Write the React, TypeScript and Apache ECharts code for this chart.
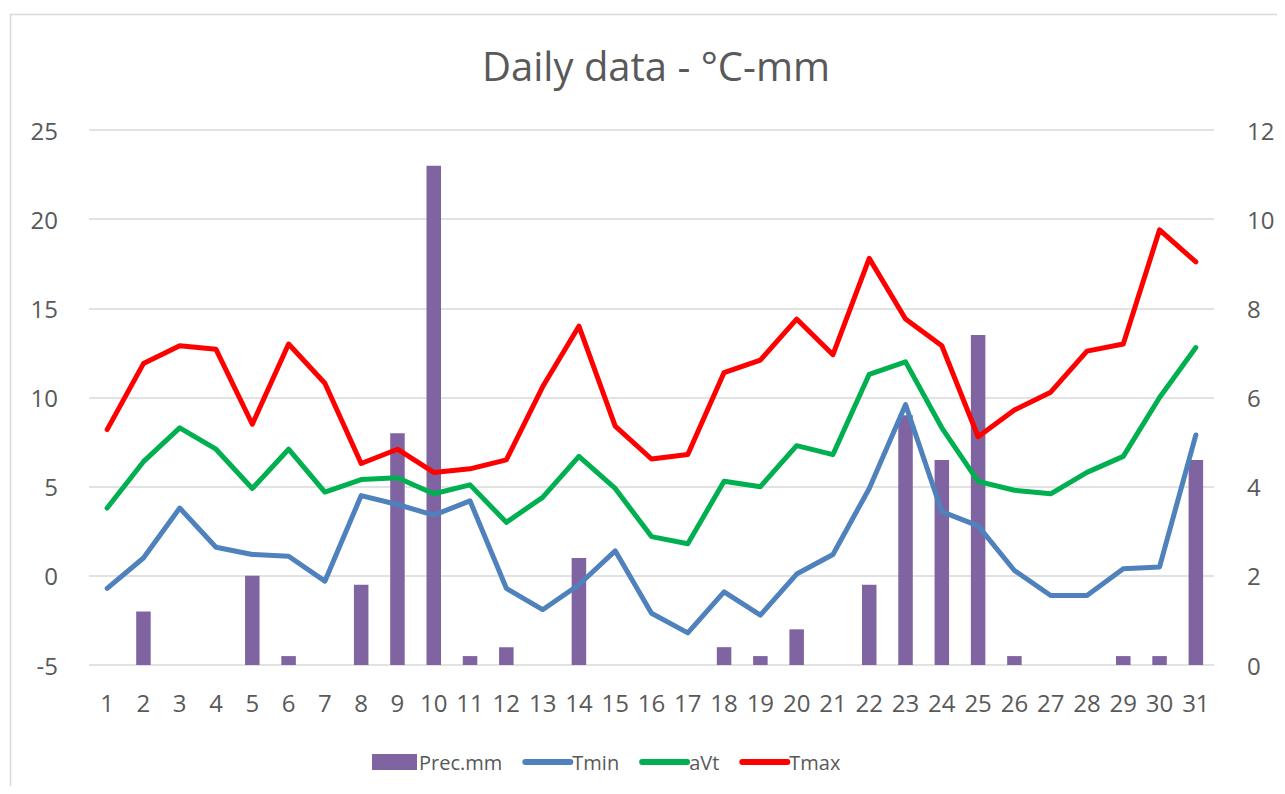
import React, { useEffect, useRef } from "react";
import * as echarts from "echarts";

const days = Array.from({ length: 31 }, (_, i) => String(i + 1));
const precMm = [0, 1.2, 0, 0, 2.0, 0.2, 0, 1.8, 5.2, 11.2, 0.2, 0.4, 0, 2.4, 0, 0, 0, 0.4, 0.2, 0.8, 0, 1.8, 5.6, 4.6, 7.4, 0.2, 0, 0, 0.2, 0.2, 4.6];
const tMin = [-0.7, 1.0, 3.8, 1.6, 1.2, 1.1, -0.3, 4.5, 4.0, 3.4, 4.2, -0.7, -1.9, -0.5, 1.4, -2.1, -3.2, -0.9, -2.2, 0.1, 1.2, 4.9, 9.6, 3.6, 2.8, 0.3, -1.1, -1.1, 0.4, 0.5, 7.9];
const aVt = [3.8, 6.4, 8.3, 7.1, 4.9, 7.1, 4.7, 5.4, 5.5, 4.6, 5.1, 3.0, 4.4, 6.7, 4.9, 2.2, 1.8, 5.3, 5.0, 7.3, 6.8, 11.3, 12.0, 8.3, 5.3, 4.8, 4.6, 5.8, 6.7, 10.0, 12.8];
const tMax = [8.2, 11.9, 12.9, 12.7, 8.5, 13.0, 10.8, 6.3, 7.1, 5.8, 6.0, 6.5, 10.6, 14.0, 8.4, 6.55, 6.8, 11.4, 12.1, 14.4, 12.4, 17.8, 14.4, 12.9, 7.8, 9.3, 10.3, 12.6, 13.0, 19.4, 17.6];

const FONT = "'Open Sans', 'Noto Sans', sans-serif";
const GREY = "#595959";

export default function App() {
  const ref = useRef<HTMLDivElement>(null);
  useEffect(() => {
    if (!ref.current) return;
    const chart = echarts.init(ref.current, undefined, { renderer: "svg" });
    const lineSeries = (name: string, data: number[], color: string) => ({
      name,
      type: "line",
      yAxisIndex: 0,
      data,
      symbol: "none",
      lineStyle: { color, width: 5, cap: "round", join: "round" },
      itemStyle: { color },
      z: 3,
    });
    chart.setOption({
      animation: false,
      backgroundColor: "#fff",
      textStyle: { fontFamily: FONT },
      title: {
        text: "Daily data - °C-mm",
        left: 651,
        textAlign: "center",
        top: 40,
        textStyle: { fontFamily: FONT, fontSize: 40, fontWeight: "normal", color: GREY },
      },
      graphic: [
        {
          type: "rect",
          shape: { x: 10.5, y: 14.5, width: 1300, height: 800 },
          style: { fill: "none", stroke: "#d9d9d9", lineWidth: 1.5 },
          silent: true,
          z: -1,
        },
      ],
      legend: {
        top: 747,
        left: 367,
        itemGap: 20,
        itemWidth: 45,
        itemHeight: 16,
        lineStyle: { width: 6, cap: "round" },
        textStyle: { fontFamily: FONT, fontSize: 20, color: GREY, padding: [0, 0, 0, -3] },
        data: [
          { name: "Prec.mm", icon: "rect" },
          { name: "Tmin", itemStyle: { opacity: 0 } },
          { name: "aVt", itemStyle: { opacity: 0 } },
          { name: "Tmax", itemStyle: { opacity: 0 } },
        ],
      },
      grid: { left: 89, right: 71, top: 130, bottom: 129 },
      xAxis: {
        type: "category",
        data: days,
        axisLine: { show: false },
        axisTick: { show: false },
        axisLabel: { fontFamily: FONT, fontSize: 24, color: GREY, margin: 25, interval: 0 },
      },
      yAxis: [
        {
          type: "value",
          min: -5,
          max: 25,
          interval: 5,
          axisLine: { show: false },
          axisTick: { show: false },
          axisLabel: { fontFamily: FONT, fontSize: 24, color: GREY, margin: 31 },
          splitLine: { lineStyle: { color: "#d9d9d9", width: 1.5 } },
        },
        {
          type: "value",
          min: 0,
          max: 12,
          interval: 2,
          axisLine: { show: false },
          axisTick: { show: false },
          axisLabel: { fontFamily: FONT, fontSize: 24, color: GREY, margin: 33 },
          splitLine: { show: false },
        },
      ],
      series: [
        {
          name: "Prec.mm",
          type: "bar",
          yAxisIndex: 1,
          data: precMm,
          barWidth: "40%",
          itemStyle: { color: "#8064A2" },
          z: 2,
        },
        lineSeries("Tmin", tMin, "#4F81BD"),
        lineSeries("aVt", aVt, "#00B050"),
        lineSeries("Tmax", tMax, "#FF0000"),
      ],
    });
    return () => chart.dispose();
  }, []);
  return <div ref={ref} style={{ width: 1285, height: 794, margin: -8 }} />;
}
